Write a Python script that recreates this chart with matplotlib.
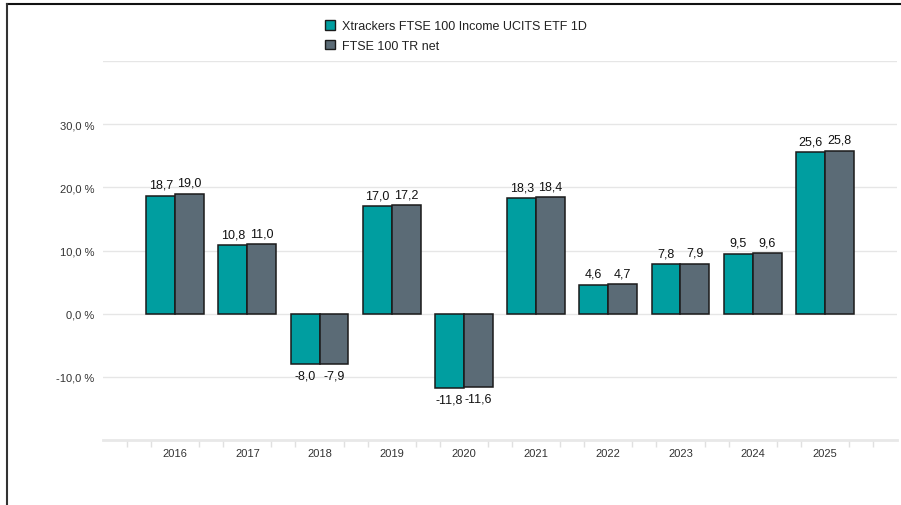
import numpy as np
import matplotlib.pyplot as plt
from matplotlib.patches import Patch
from matplotlib.lines import Line2D

plt.rcParams['font.family'] = ['Liberation Sans', 'DejaVu Sans']

years = ["2016", "2017", "2018", "2019", "2020", "2021", "2022", "2023", "2024", "2025"]
etf = [18.7, 10.8, -8.0, 17.0, -11.8, 18.3, 4.6, 7.8, 9.5, 25.6]
index = [19.0, 11.0, -7.9, 17.2, -11.6, 18.4, 4.7, 7.9, 9.6, 25.8]
series_names = ["Xtrackers FTSE 100 Income UCITS ETF 1D", "FTSE 100 TR net"]
colors = ["#009ea0", "#5b6b76"]

fig = plt.figure(figsize=(9.01, 5.06), dpi=100)
ax = fig.add_axes([103/901, 1 - 441/506, 794/901, 379/506])

x = np.arange(len(years))
w = 0.4
b1 = ax.bar(x - w/2, etf, w, color=colors[0], edgecolor="#1a1a1a", linewidth=1.1, zorder=3)
b2 = ax.bar(x + w/2, index, w, color=colors[1], edgecolor="#1a1a1a", linewidth=1.1, zorder=3)

def fmt(v):
    return f"{v:.1f}".replace(".", ",")

for bars, vals in [(b1, etf), (b2, index)]:
    for r, v in zip(bars, vals):
        cx = r.get_x() + r.get_width()/2
        if v >= 0:
            ax.annotate(fmt(v), (cx, v), xytext=(0, 3.5), textcoords="offset points",
                        ha="center", va="bottom", fontsize=9, color="#111111")
        else:
            ax.annotate(fmt(v), (cx, v), xytext=(0, -4), textcoords="offset points",
                        ha="center", va="top", fontsize=9, color="#111111")

ax.set_xlim(-1, 10)
ax.set_ylim(-20, 40)
ax.set_yticks([-10, 0, 10, 20, 30, 40])
ax.set_yticklabels(["-10,0 %", "0,0 %", "10,0 %", "20,0 %", "30,0 %", ""])
ax.grid(axis="y", color="#e6e6e6", linewidth=1, zorder=0)
ax.tick_params(axis="y", length=0, pad=6, labelsize=8, labelcolor="#333333")

ax.set_xticks(x)
ax.set_xticklabels(years)
minor = [k/3 for k in range(-3, 31) if k % 3 != 0]
ax.set_xticks(minor, minor=True)
ax.tick_params(axis="x", which="major", length=0, pad=6, labelsize=8, labelcolor="#333333")
ax.tick_params(axis="x", which="minor", length=5, width=1, color="#e0e0e0")

for s in ["left", "right", "top"]:
    ax.spines[s].set_visible(False)
ax.spines["bottom"].set_color("#e8e8e8")
ax.spines["bottom"].set_linewidth(2)

handles = [Patch(facecolor=c, edgecolor="#1a1a1a", linewidth=1) for c in colors]
fig.legend(handles, series_names, loc="upper left", bbox_to_anchor=(314/901, 1 - 10/506),
           frameon=False, fontsize=9, handlelength=0.8, handleheight=0.8,
           handletextpad=0.5, labelspacing=0.6, labelcolor="#222222")

# outer frame lines (top and left)
fig.add_artist(Line2D([6.5/901, 1], [1 - 4.5/506, 1 - 4.5/506], color="#111111", linewidth=1.5))
fig.add_artist(Line2D([6.5/901, 6.5/901], [0, 1 - 4.5/506], color="#333333", linewidth=1.5))

fig.savefig("out.png", dpi=100)
